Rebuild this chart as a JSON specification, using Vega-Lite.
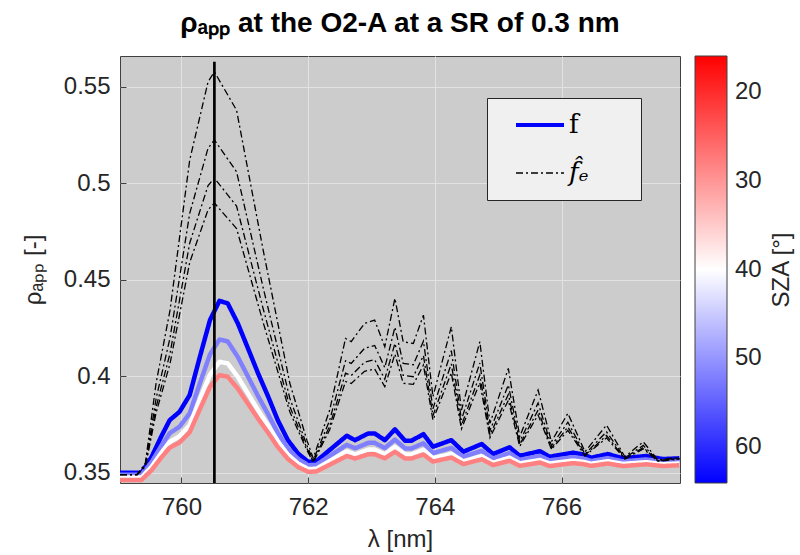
{
  "$schema": "https://vega.github.io/schema/vega-lite/v6.json",
  "autosize": {"type": "none"},
  "width": 560,
  "height": 427,
  "padding": {"left": 120, "top": 56, "right": 120, "bottom": 72},
  "background": "white",
  "title": {
    "text": "ρₐₚₚ at the O2-A at a SR of 0.3 nm",
    "frame": "group",
    "anchor": "middle",
    "font": "Liberation Sans",
    "fontSize": 28,
    "fontWeight": "bold",
    "color": "#000000",
    "offset": 18
  },
  "config": {
    "view": {"fill": "#cccccc", "stroke": "#404040", "strokeWidth": 1},
    "axis": {
      "labelFont": "Liberation Sans",
      "labelFontSize": 24,
      "labelColor": "#262626",
      "titleFont": "Liberation Sans",
      "titleFontSize": 24,
      "titleFontWeight": "normal",
      "titleColor": "#262626",
      "gridColor": "#e2e2e2",
      "gridWidth": 1,
      "domain": false,
      "tickColor": "#404040",
      "tickSize": -6
    }
  },
  "datasets": {
    "f": [
      {"lam":759.03,"rho":0.3500,"sza":64},{"lam":759.37,"rho":0.3500,"sza":64},{"lam":759.53,"rho":0.3583,"sza":64},{"lam":759.68,"rho":0.3687,"sza":64},{"lam":759.815,"rho":0.3773,"sza":64},{"lam":759.97,"rho":0.3816,"sza":64},{"lam":760.13,"rho":0.3903,"sza":64},{"lam":760.29,"rho":0.4100,"sza":64},{"lam":760.45,"rho":0.4291,"sza":64},{"lam":760.60,"rho":0.4391,"sza":64},{"lam":760.73,"rho":0.4378,"sza":64},{"lam":760.89,"rho":0.4274,"sza":64},{"lam":761.05,"rho":0.4145,"sza":64},{"lam":761.21,"rho":0.4015,"sza":64},{"lam":761.37,"rho":0.3894,"sza":64},{"lam":761.52,"rho":0.3773,"sza":64},{"lam":761.68,"rho":0.3669,"sza":64},{"lam":761.84,"rho":0.3600,"sza":64},{"lam":762.00,"rho":0.3557,"sza":64},{"lam":762.13,"rho":0.3560,"sza":64},{"lam":762.34,"rho":0.3618,"sza":64},{"lam":762.61,"rho":0.3692,"sza":64},{"lam":762.74,"rho":0.3669,"sza":64},{"lam":762.95,"rho":0.3704,"sza":64},{"lam":763.05,"rho":0.3704,"sza":64},{"lam":763.21,"rho":0.3669,"sza":64},{"lam":763.37,"rho":0.3725,"sza":64},{"lam":763.53,"rho":0.3666,"sza":64},{"lam":763.63,"rho":0.3666,"sza":64},{"lam":763.82,"rho":0.3700,"sza":64},{"lam":763.97,"rho":0.3635,"sza":64},{"lam":764.26,"rho":0.3669,"sza":64},{"lam":764.45,"rho":0.3609,"sza":64},{"lam":764.74,"rho":0.3649,"sza":64},{"lam":764.92,"rho":0.3597,"sza":64},{"lam":765.18,"rho":0.3632,"sza":64},{"lam":765.34,"rho":0.3588,"sza":64},{"lam":765.66,"rho":0.3612,"sza":64},{"lam":765.81,"rho":0.3583,"sza":64},{"lam":766.18,"rho":0.3604,"sza":64},{"lam":766.34,"rho":0.3595,"sza":64},{"lam":766.47,"rho":0.3578,"sza":64},{"lam":766.73,"rho":0.3597,"sza":64},{"lam":766.97,"rho":0.3575,"sza":64},{"lam":767.34,"rho":0.3587,"sza":64},{"lam":767.60,"rho":0.3571,"sza":64},{"lam":767.86,"rho":0.3575,"sza":64},

      {"lam":759.03,"rho":0.3490,"sza":52},{"lam":759.37,"rho":0.3490,"sza":52},{"lam":759.53,"rho":0.3556,"sza":52},{"lam":759.68,"rho":0.3638,"sza":52},{"lam":759.815,"rho":0.3705,"sza":52},{"lam":759.97,"rho":0.3739,"sza":52},{"lam":760.13,"rho":0.3808,"sza":52},{"lam":760.29,"rho":0.3963,"sza":52},{"lam":760.45,"rho":0.4113,"sza":52},{"lam":760.60,"rho":0.4191,"sza":52},{"lam":760.73,"rho":0.4181,"sza":52},{"lam":760.89,"rho":0.4100,"sza":52},{"lam":761.05,"rho":0.3999,"sza":52},{"lam":761.21,"rho":0.3897,"sza":52},{"lam":761.37,"rho":0.3802,"sza":52},{"lam":761.52,"rho":0.3708,"sza":52},{"lam":761.68,"rho":0.3626,"sza":52},{"lam":761.84,"rho":0.3572,"sza":52},{"lam":762.00,"rho":0.3539,"sza":52},{"lam":762.13,"rho":0.3541,"sza":52},{"lam":762.34,"rho":0.3587,"sza":52},{"lam":762.61,"rho":0.3645,"sza":52},{"lam":762.74,"rho":0.3627,"sza":52},{"lam":762.95,"rho":0.3655,"sza":52},{"lam":763.05,"rho":0.3655,"sza":52},{"lam":763.21,"rho":0.3628,"sza":52},{"lam":763.37,"rho":0.3672,"sza":52},{"lam":763.53,"rho":0.3626,"sza":52},{"lam":763.63,"rho":0.3626,"sza":52},{"lam":763.82,"rho":0.3653,"sza":52},{"lam":763.97,"rho":0.3602,"sza":52},{"lam":764.26,"rho":0.3629,"sza":52},{"lam":764.45,"rho":0.3583,"sza":52},{"lam":764.74,"rho":0.3614,"sza":52},{"lam":764.92,"rho":0.3574,"sza":52},{"lam":765.18,"rho":0.3602,"sza":52},{"lam":765.34,"rho":0.3567,"sza":52},{"lam":765.66,"rho":0.3587,"sza":52},{"lam":765.81,"rho":0.3564,"sza":52},{"lam":766.18,"rho":0.3581,"sza":52},{"lam":766.34,"rho":0.3574,"sza":52},{"lam":766.47,"rho":0.3561,"sza":52},{"lam":766.73,"rho":0.3576,"sza":52},{"lam":766.97,"rho":0.3559,"sza":52},{"lam":767.34,"rho":0.3569,"sza":52},{"lam":767.60,"rho":0.3557,"sza":52},{"lam":767.86,"rho":0.3560,"sza":52},

      {"lam":759.03,"rho":0.3475,"sza":40},{"lam":759.37,"rho":0.3475,"sza":40},{"lam":759.53,"rho":0.3532,"sza":40},{"lam":759.68,"rho":0.3602,"sza":40},{"lam":759.815,"rho":0.3660,"sza":40},{"lam":759.97,"rho":0.3689,"sza":40},{"lam":760.13,"rho":0.3747,"sza":40},{"lam":760.29,"rho":0.3880,"sza":40},{"lam":760.45,"rho":0.4008,"sza":40},{"lam":760.60,"rho":0.4075,"sza":40},{"lam":760.73,"rho":0.4067,"sza":40},{"lam":760.89,"rho":0.3997,"sza":40},{"lam":761.05,"rho":0.3911,"sza":40},{"lam":761.21,"rho":0.3824,"sza":40},{"lam":761.37,"rho":0.3744,"sza":40},{"lam":761.52,"rho":0.3663,"sza":40},{"lam":761.68,"rho":0.3594,"sza":40},{"lam":761.84,"rho":0.3548,"sza":40},{"lam":762.00,"rho":0.3519,"sza":40},{"lam":762.13,"rho":0.3521,"sza":40},{"lam":762.34,"rho":0.3561,"sza":40},{"lam":762.61,"rho":0.3611,"sza":40},{"lam":762.74,"rho":0.3595,"sza":40},{"lam":762.95,"rho":0.3620,"sza":40},{"lam":763.05,"rho":0.3620,"sza":40},{"lam":763.21,"rho":0.3596,"sza":40},{"lam":763.37,"rho":0.3634,"sza":40},{"lam":763.53,"rho":0.3595,"sza":40},{"lam":763.63,"rho":0.3595,"sza":40},{"lam":763.82,"rho":0.3619,"sza":40},{"lam":763.97,"rho":0.3575,"sza":40},{"lam":764.26,"rho":0.3598,"sza":40},{"lam":764.45,"rho":0.3559,"sza":40},{"lam":764.74,"rho":0.3586,"sza":40},{"lam":764.92,"rho":0.3552,"sza":40},{"lam":765.18,"rho":0.3578,"sza":40},{"lam":765.34,"rho":0.3549,"sza":40},{"lam":765.66,"rho":0.3566,"sza":40},{"lam":765.81,"rho":0.3548,"sza":40},{"lam":766.18,"rho":0.3563,"sza":40},{"lam":766.34,"rho":0.3557,"sza":40},{"lam":766.47,"rho":0.3547,"sza":40},{"lam":766.73,"rho":0.3560,"sza":40},{"lam":766.97,"rho":0.3546,"sza":40},{"lam":767.34,"rho":0.3555,"sza":40},{"lam":767.60,"rho":0.3544,"sza":40},{"lam":767.86,"rho":0.3548,"sza":40},

      {"lam":759.03,"rho":0.3463,"sza":28},{"lam":759.37,"rho":0.3463,"sza":28},{"lam":759.53,"rho":0.3514,"sza":28},{"lam":759.68,"rho":0.3578,"sza":28},{"lam":759.815,"rho":0.3630,"sza":28},{"lam":759.97,"rho":0.3657,"sza":28},{"lam":760.13,"rho":0.3710,"sza":28},{"lam":760.29,"rho":0.3829,"sza":28},{"lam":760.45,"rho":0.3945,"sza":28},{"lam":760.60,"rho":0.4006,"sza":28},{"lam":760.73,"rho":0.3998,"sza":28},{"lam":760.89,"rho":0.3936,"sza":28},{"lam":761.05,"rho":0.3858,"sza":28},{"lam":761.21,"rho":0.3780,"sza":28},{"lam":761.37,"rho":0.3707,"sza":28},{"lam":761.52,"rho":0.3634,"sza":28},{"lam":761.68,"rho":0.3572,"sza":28},{"lam":761.84,"rho":0.3530,"sza":28},{"lam":762.00,"rho":0.3505,"sza":28},{"lam":762.13,"rho":0.3507,"sza":28},{"lam":762.34,"rho":0.3542,"sza":28},{"lam":762.61,"rho":0.3587,"sza":28},{"lam":762.74,"rho":0.3574,"sza":28},{"lam":762.95,"rho":0.3596,"sza":28},{"lam":763.05,"rho":0.3596,"sza":28},{"lam":763.21,"rho":0.3575,"sza":28},{"lam":763.37,"rho":0.3609,"sza":28},{"lam":763.53,"rho":0.3574,"sza":28},{"lam":763.63,"rho":0.3574,"sza":28},{"lam":763.82,"rho":0.3595,"sza":28},{"lam":763.97,"rho":0.3558,"sza":28},{"lam":764.26,"rho":0.3579,"sza":28},{"lam":764.45,"rho":0.3545,"sza":28},{"lam":764.74,"rho":0.3570,"sza":28},{"lam":764.92,"rho":0.3540,"sza":28},{"lam":765.18,"rho":0.3562,"sza":28},{"lam":765.34,"rho":0.3536,"sza":28},{"lam":765.66,"rho":0.3553,"sza":28},{"lam":765.81,"rho":0.3535,"sza":28},{"lam":766.18,"rho":0.3550,"sza":28},{"lam":766.34,"rho":0.3545,"sza":28},{"lam":766.47,"rho":0.3536,"sza":28},{"lam":766.73,"rho":0.3548,"sza":28},{"lam":766.97,"rho":0.3535,"sza":28},{"lam":767.34,"rho":0.3544,"sza":28},{"lam":767.60,"rho":0.3535,"sza":28},{"lam":767.86,"rho":0.3539,"sza":28}
    ],
    "fe": [
      {"lam":759.03,"rho":0.3490,"id":1},{"lam":759.30,"rho":0.3490,"id":1},{"lam":759.43,"rho":0.3550,"id":1},{"lam":759.60,"rho":0.3965,"id":1},{"lam":759.82,"rho":0.4343,"id":1},{"lam":760.13,"rho":0.5120,"id":1},{"lam":760.42,"rho":0.5526,"id":1},{"lam":760.52,"rho":0.5578,"id":1},{"lam":760.87,"rho":0.5379,"id":1},{"lam":761.29,"rho":0.4654,"id":1},{"lam":761.71,"rho":0.3965,"id":1},{"lam":761.87,"rho":0.3790,"id":1},{"lam":761.98,"rho":0.3669,"id":1},{"lam":762.08,"rho":0.3575,"id":1},{"lam":762.34,"rho":0.3825,"id":1},{"lam":762.59,"rho":0.4196,"id":1},{"lam":762.68,"rho":0.4180,"id":1},{"lam":762.89,"rho":0.4274,"id":1},{"lam":763.05,"rho":0.4291,"id":1},{"lam":763.21,"rho":0.4153,"id":1},{"lam":763.37,"rho":0.4404,"id":1},{"lam":763.50,"rho":0.4179,"id":1},{"lam":763.66,"rho":0.4170,"id":1},{"lam":763.82,"rho":0.4317,"id":1},{"lam":763.97,"rho":0.3894,"id":1},{"lam":764.26,"rho":0.4257,"id":1},{"lam":764.42,"rho":0.3825,"id":1},{"lam":764.71,"rho":0.4179,"id":1},{"lam":764.87,"rho":0.3756,"id":1},{"lam":765.16,"rho":0.4041,"id":1},{"lam":765.34,"rho":0.3687,"id":1},{"lam":765.63,"rho":0.3929,"id":1},{"lam":765.84,"rho":0.3661,"id":1},{"lam":766.10,"rho":0.3808,"id":1},{"lam":766.37,"rho":0.3609,"id":1},{"lam":766.71,"rho":0.3747,"id":1},{"lam":767.00,"rho":0.3583,"id":1},{"lam":767.29,"rho":0.3661,"id":1},{"lam":767.52,"rho":0.3566,"id":1},{"lam":767.86,"rho":0.3580,"id":1},

      {"lam":759.03,"rho":0.3490,"id":2},{"lam":759.30,"rho":0.3491,"id":2},{"lam":759.43,"rho":0.3540,"id":2},{"lam":759.60,"rho":0.3885,"id":2},{"lam":759.82,"rho":0.4199,"id":2},{"lam":760.13,"rho":0.4844,"id":2},{"lam":760.42,"rho":0.5182,"id":2},{"lam":760.52,"rho":0.5225,"id":2},{"lam":760.87,"rho":0.5060,"id":2},{"lam":761.29,"rho":0.4459,"id":2},{"lam":761.71,"rho":0.3887,"id":2},{"lam":761.87,"rho":0.3742,"id":2},{"lam":761.98,"rho":0.3642,"id":2},{"lam":762.08,"rho":0.3564,"id":2},{"lam":762.34,"rho":0.3772,"id":2},{"lam":762.59,"rho":0.4080,"id":2},{"lam":762.68,"rho":0.4067,"id":2},{"lam":762.89,"rho":0.4145,"id":2},{"lam":763.05,"rho":0.4160,"id":2},{"lam":763.21,"rho":0.4045,"id":2},{"lam":763.37,"rho":0.4254,"id":2},{"lam":763.50,"rho":0.4067,"id":2},{"lam":763.66,"rho":0.4060,"id":2},{"lam":763.82,"rho":0.4182,"id":2},{"lam":763.97,"rho":0.3831,"id":2},{"lam":764.26,"rho":0.4133,"id":2},{"lam":764.42,"rho":0.3775,"id":2},{"lam":764.71,"rho":0.4069,"id":2},{"lam":764.87,"rho":0.3718,"id":2},{"lam":765.16,"rho":0.3955,"id":2},{"lam":765.34,"rho":0.3661,"id":2},{"lam":765.63,"rho":0.3862,"id":2},{"lam":765.84,"rho":0.3640,"id":2},{"lam":766.10,"rho":0.3762,"id":2},{"lam":766.37,"rho":0.3597,"id":2},{"lam":766.71,"rho":0.3712,"id":2},{"lam":767.00,"rho":0.3577,"id":2},{"lam":767.29,"rho":0.3642,"id":2},{"lam":767.52,"rho":0.3563,"id":2},{"lam":767.86,"rho":0.3575,"id":2},

      {"lam":759.03,"rho":0.3490,"id":3},{"lam":759.30,"rho":0.3491,"id":3},{"lam":759.43,"rho":0.3535,"id":3},{"lam":759.60,"rho":0.3840,"id":3},{"lam":759.82,"rho":0.4119,"id":3},{"lam":760.13,"rho":0.4690,"id":3},{"lam":760.42,"rho":0.4989,"id":3},{"lam":760.52,"rho":0.5027,"id":3},{"lam":760.87,"rho":0.4882,"id":3},{"lam":761.29,"rho":0.4350,"id":3},{"lam":761.71,"rho":0.3844,"id":3},{"lam":761.87,"rho":0.3716,"id":3},{"lam":761.98,"rho":0.3627,"id":3},{"lam":762.08,"rho":0.3558,"id":3},{"lam":762.34,"rho":0.3742,"id":3},{"lam":762.59,"rho":0.4016,"id":3},{"lam":762.68,"rho":0.4004,"id":3},{"lam":762.89,"rho":0.4073,"id":3},{"lam":763.05,"rho":0.4086,"id":3},{"lam":763.21,"rho":0.3985,"id":3},{"lam":763.37,"rho":0.4170,"id":3},{"lam":763.50,"rho":0.4005,"id":3},{"lam":763.66,"rho":0.3998,"id":3},{"lam":763.82,"rho":0.4107,"id":3},{"lam":763.97,"rho":0.3796,"id":3},{"lam":764.26,"rho":0.4064,"id":3},{"lam":764.42,"rho":0.3746,"id":3},{"lam":764.71,"rho":0.4007,"id":3},{"lam":764.87,"rho":0.3696,"id":3},{"lam":765.16,"rho":0.3906,"id":3},{"lam":765.34,"rho":0.3646,"id":3},{"lam":765.63,"rho":0.3825,"id":3},{"lam":765.84,"rho":0.3628,"id":3},{"lam":766.10,"rho":0.3737,"id":3},{"lam":766.37,"rho":0.3591,"id":3},{"lam":766.71,"rho":0.3693,"id":3},{"lam":767.00,"rho":0.3573,"id":3},{"lam":767.29,"rho":0.3631,"id":3},{"lam":767.52,"rho":0.3561,"id":3},{"lam":767.86,"rho":0.3573,"id":3},

      {"lam":759.03,"rho":0.3490,"id":4},{"lam":759.30,"rho":0.3491,"id":4},{"lam":759.43,"rho":0.3531,"id":4},{"lam":759.60,"rho":0.3811,"id":4},{"lam":759.82,"rho":0.4066,"id":4},{"lam":760.13,"rho":0.4590,"id":4},{"lam":760.42,"rho":0.4863,"id":4},{"lam":760.52,"rho":0.4898,"id":4},{"lam":760.87,"rho":0.4766,"id":4},{"lam":761.29,"rho":0.4279,"id":4},{"lam":761.71,"rho":0.3816,"id":4},{"lam":761.87,"rho":0.3698,"id":4},{"lam":761.98,"rho":0.3617,"id":4},{"lam":762.08,"rho":0.3554,"id":4},{"lam":762.34,"rho":0.3723,"id":4},{"lam":762.59,"rho":0.3973,"id":4},{"lam":762.68,"rho":0.3963,"id":4},{"lam":762.89,"rho":0.4026,"id":4},{"lam":763.05,"rho":0.4038,"id":4},{"lam":763.21,"rho":0.3946,"id":4},{"lam":763.37,"rho":0.4115,"id":4},{"lam":763.50,"rho":0.3964,"id":4},{"lam":763.66,"rho":0.3958,"id":4},{"lam":763.82,"rho":0.4058,"id":4},{"lam":763.97,"rho":0.3773,"id":4},{"lam":764.26,"rho":0.4018,"id":4},{"lam":764.42,"rho":0.3728,"id":4},{"lam":764.71,"rho":0.3967,"id":4},{"lam":764.87,"rho":0.3682,"id":4},{"lam":765.16,"rho":0.3875,"id":4},{"lam":765.34,"rho":0.3637,"id":4},{"lam":765.63,"rho":0.3800,"id":4},{"lam":765.84,"rho":0.3621,"id":4},{"lam":766.10,"rho":0.3720,"id":4},{"lam":766.37,"rho":0.3587,"id":4},{"lam":766.71,"rho":0.3681,"id":4},{"lam":767.00,"rho":0.3571,"id":4},{"lam":767.29,"rho":0.3624,"id":4},{"lam":767.52,"rho":0.3560,"id":4},{"lam":767.86,"rho":0.3571,"id":4}
    ],
    "vline": [{"lam": 760.52, "rho": 0.3447, "rho2": 0.563}]
  },
  "encoding": {
    "x": {
      "field": "lam", "type": "quantitative",
      "scale": {"domain": [759.03, 767.87], "nice": false, "zero": false},
      "axis": {"values": [760, 762, 764, 766], "title": "λ [nm]", "labelPadding": 18, "titlePadding": 8}
    },
    "y": {
      "field": "rho", "type": "quantitative",
      "scale": {"domain": [0.3447, 0.566], "nice": false, "zero": false},
      "axis": {"values": [0.35, 0.4, 0.45, 0.5, 0.55], "format": "~g", "title": "ρₐₚₚ [-]", "labelPadding": 16, "titlePadding": 18}
    }
  },
  "layer": [
    {
      "data": {"name": "f"},
      "mark": {"type": "line", "strokeWidth": 4.5, "clip": true, "strokeJoin": "round"},
      "encoding": {
        "detail": {"field": "sza", "type": "quantitative"},
        "color": {
          "field": "sza", "type": "quantitative",
          "scale": {"domain": [64, 40, 16], "range": ["#0000ff", "#ffffff", "#ff0000"], "interpolate": "rgb"},
          "legend": {
            "orient": "none", "legendX": 575, "legendY": 0,
            "direction": "vertical",
            "gradientLength": 427, "gradientThickness": 32,
            "gradientStrokeColor": "#404040", "gradientStrokeWidth": 1,
            "values": [20, 30, 40, 50, 60],
            "labelFont": "Liberation Sans", "labelFontSize": 24, "labelColor": "#262626", "labelOffset": 8,
            "title": "SZA [°]", "titleOrient": "right",
            "titleFont": "Liberation Sans", "titleFontSize": 24, "titleFontWeight": "normal", "titleColor": "#262626",
            "titleAnchor": "middle", "titlePadding": 8,
            "encode": {"title": {"update": {"angle": {"value": 270}, "baseline": {"value": "top"}}}}
          }
        },
        "strokeDash": {
          "datum": "f",
          "scale": {"domain": ["f", "f̂ₑ"], "range": [[1, 0], [7, 3, 2, 3]]},
          "legend": {
            "orient": "none", "legendX": 367, "legendY": 42,
            "title": null,
            "symbolType": "stroke", "symbolSize": 2304, "symbolOffset": 26,
            "symbolStrokeWidth": 1.5,
            "labelFont": "DejaVu Serif", "labelFontSize": 26, "labelColor": "#000000", "labelOffset": 16,
            "labelExpr": "datum.label + '\u2800\u2800'",
            "rowPadding": 22, "padding": 14,
            "fillColor": "#f0f0f0", "strokeColor": "#262626",
            "encode": {
              "symbols": {
                "update": {
                  "stroke": {"signal": "datum.value === 'f' ? '#0000ff' : '#000000'"},
                  "strokeWidth": {"signal": "datum.value === 'f' ? 4 : 1.5"}
                }
              },
              "labels": {
                "update": {
                  "fontStyle": {"signal": "datum.value === 'f' ? 'normal' : 'italic'"}
                }
              }
            }
          }
        }
      }
    },
    {
      "data": {"name": "fe"},
      "mark": {"type": "line", "strokeWidth": 1.3, "clip": true, "color": "#000000"},
      "encoding": {
        "detail": {"field": "id", "type": "nominal"},
        "strokeDash": {"datum": "f̂ₑ"}
      }
    },
    {
      "data": {"name": "vline"},
      "mark": {"type": "rule", "color": "#000000", "strokeWidth": 2.7, "clip": true},
      "encoding": {
        "x": {"field": "lam", "type": "quantitative"},
        "y": {"field": "rho", "type": "quantitative"},
        "y2": {"field": "rho2"}
      }
    }
  ]
}
